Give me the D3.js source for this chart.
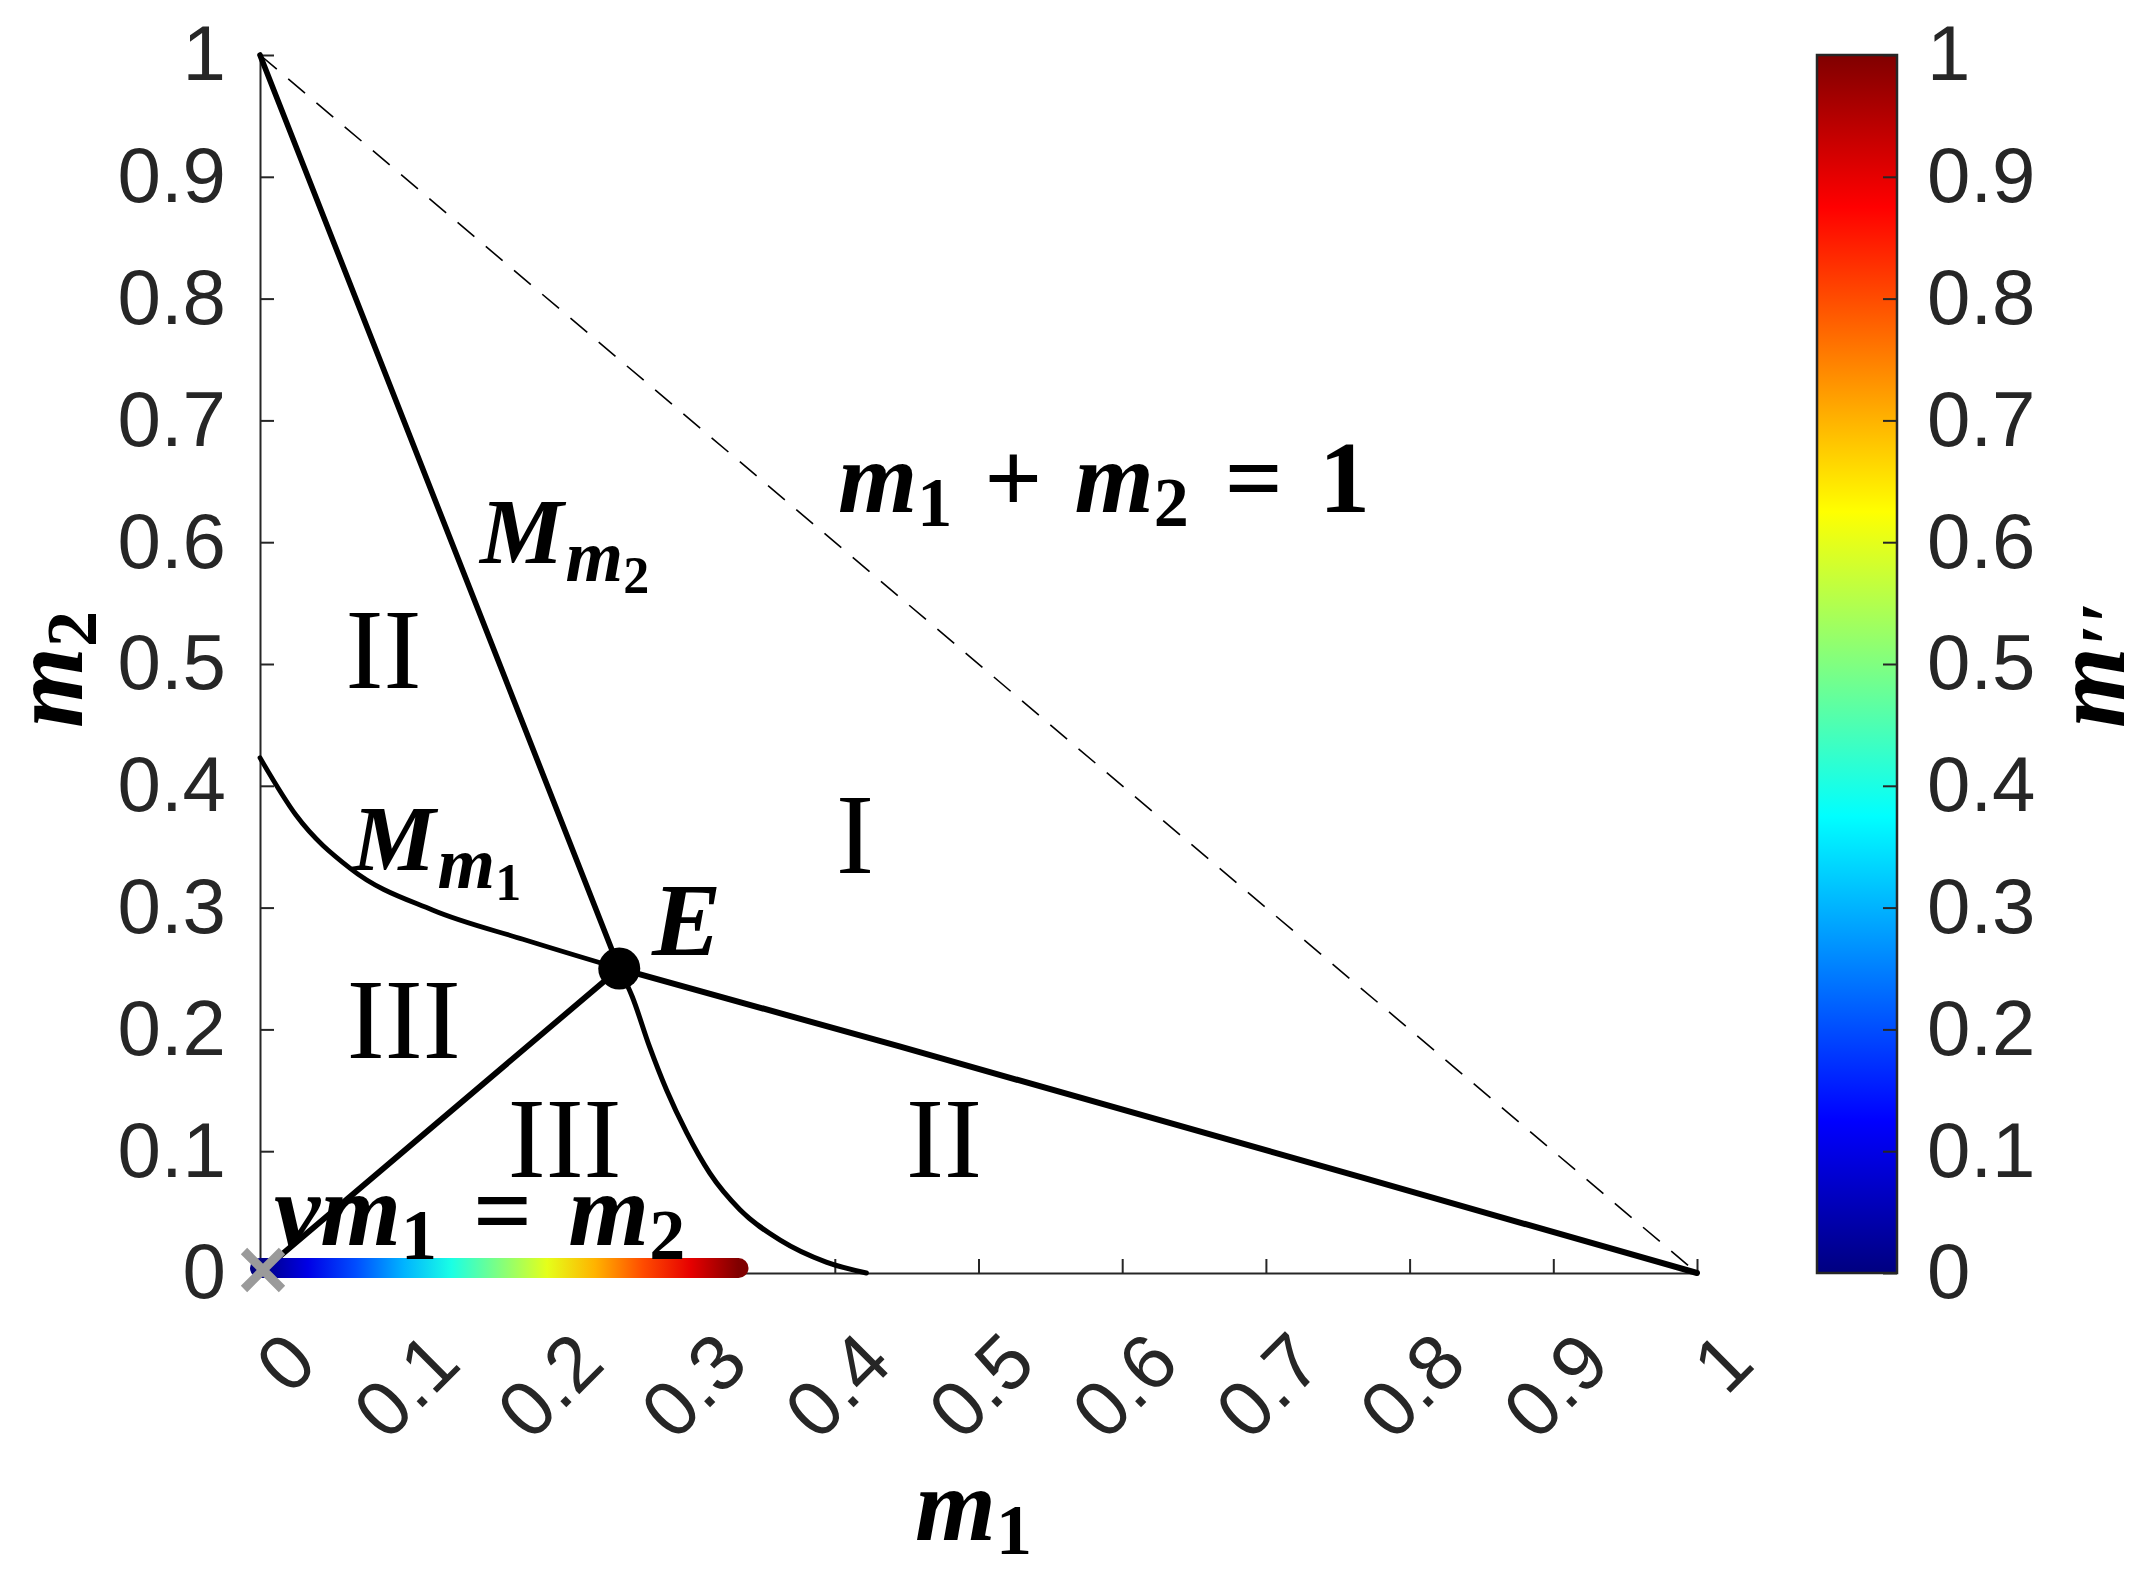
<!DOCTYPE html>
<html>
<head>
<meta charset="utf-8">
<script src="https://cdn.jsdelivr.net/npm/d3@7"></script>
<style>
  body { margin: 0; background: #fff; }
  svg { display: block; }
</style>
</head>
<body>
<script>
// canvas size
var w = 2146;
var h = 1584;

// tick values and labels
var tickVals = [0, 0.1, 0.2, 0.3, 0.4, 0.5, 0.6, 0.7, 0.8, 0.9, 1];
var tickLabels = ["0", "0.1", "0.2", "0.3", "0.4", "0.5", "0.6", "0.7", "0.8", "0.9", "1"];

// curves
var mm2UpX = [0, 0.25];
var mm2UpY = [1, 0.25];
var mm2LowX = [0.25, 0.259, 0.271, 0.283, 0.297, 0.313, 0.334, 0.362, 0.394, 0.422];
var mm2LowY = [0.25, 0.227, 0.186, 0.150, 0.115, 0.082, 0.052, 0.027, 0.009, 0];
var mm1LeftX = [0, 0.025, 0.063, 0.12, 0.183, 0.25];
var mm1LeftY = [0.423, 0.376, 0.332, 0.298, 0.274, 0.25];
var mm1RightX = [0.25, 0.445, 0.771, 1];
var mm1RightY = [0.25, 0.186, 0.077, 0];
var nuX = [0, 0.25];
var nuY = [0, 0.25];
var diagX = [0, 1];
var diagY = [1, 0];
var pointE = [0.25, 0.25];

// coloured band along the m1 axis (m'' value at each position)
var bandX = [0, 0.0333, 0.0666, 0.0999, 0.1332, 0.1665, 0.1998, 0.2331, 0.2664, 0.2997, 0.333];
var bandM = [0, 0.1, 0.2, 0.3, 0.4, 0.5, 0.6, 0.7, 0.8, 0.9, 1];

// region labels
var regionNames = ["II", "I", "III", "III", "II"];
var regionX = [0.086, 0.414, 0.100, 0.212, 0.476];
var regionY = [0.480, 0.328, 0.1765, 0.079, 0.079];

// jet colormap
var jet = d3.scaleLinear()
    .domain([0, 0.125, 0.375, 0.625, 0.875, 1])
    .range(["#000080", "#0000ff", "#00ffff", "#ffff00", "#ff0000", "#800000"]);

var x = d3.scaleLinear().domain([0, 1]).range([260, 1697]);
var y = d3.scaleLinear().domain([0, 1]).range([1273, 55]);
var cbY = d3.scaleLinear().domain([0, 1]).range([1273, 55]);

var svg = d3.select("body").append("svg")
    .attr("width", w)
    .attr("height", h);

var defs = svg.append("defs");

var axisColor = "#262626";
var tickFont = "'Liberation Sans', Arial, sans-serif";
var mathFont = "'Liberation Serif', 'Times New Roman', serif";

//y axis
var yAxis = svg.append("g")
    .attr("transform", "translate(" + x(0) + ",0)")
    .call(d3.axisLeft(y).tickValues(tickVals).tickFormat(function(d, i){ return tickLabels[i]; })
        .tickSize(-14).tickSizeOuter(0).tickPadding(34));

//x axis
var xAxis = svg.append("g")
    .attr("transform", "translate(0," + y(0) + ")")
    .call(d3.axisBottom(x).tickValues(tickVals).tickFormat(function(d, i){ return tickLabels[i]; })
        .tickSize(-14).tickSizeOuter(0));

xAxis.selectAll(".tick text")
    .attr("y", null)
    .attr("dy", "0.35em")
    .attr("text-anchor", "end")
    .attr("transform", "translate(40,74) rotate(-45)");

[yAxis, xAxis].forEach(function(g){
    g.select(".domain").attr("stroke", axisColor).attr("stroke-width", 2);
    g.selectAll(".tick line").attr("stroke", axisColor).attr("stroke-width", 2);
    g.selectAll(".tick text")
        .attr("fill", axisColor)
        .style("font-family", tickFont)
        .style("font-size", "78px");
});

//lines
function pts(xs, ys){
    return xs.map(function(d, i){ return [d, ys[i]]; });
}
var line = d3.line()
    .x(function(d){ return x(d[0]); })
    .y(function(d){ return y(d[1]); })
    .curve(d3.curveMonotoneX);

function drawLine(xs, ys, width){
    return svg.append("path")
        .attr("d", line(pts(xs, ys)))
        .attr("fill", "none")
        .attr("stroke", "#000")
        .attr("stroke-width", width)
        .attr("stroke-linecap", "round");
}

drawLine(diagX, diagY, 1.6)
    .attr("stroke-linecap", "butt")
    .attr("stroke-dasharray", "22,15");
drawLine(mm2UpX, mm2UpY, 5.6);
drawLine(mm2LowX, mm2LowY, 5);
drawLine(mm1LeftX, mm1LeftY, 4.8);
drawLine(mm1RightX, mm1RightY, 6);
drawLine(nuX, nuY, 5.8);

//coloured band
var bandGrad = defs.append("linearGradient")
    .attr("id", "bandGrad")
    .attr("gradientUnits", "userSpaceOnUse")
    .attr("x1", x(bandX[0])).attr("x2", x(bandX[bandX.length - 1]))
    .attr("y1", 0).attr("y2", 0);
bandGrad.selectAll("stop")
    .data(bandX)
    .enter()
    .append("stop")
    .attr("offset", function(d){ return (d - bandX[0]) / (bandX[bandX.length - 1] - bandX[0]); })
    .attr("stop-color", function(d, i){ return jet(bandM[i]); });

svg.append("line")
    .attr("x1", x(bandX[0])).attr("x2", x(bandX[bandX.length - 1]))
    .attr("y1", y(0) - 5).attr("y2", y(0) - 5)
    .attr("stroke", "url(#bandGrad)")
    .attr("stroke-width", 20)
    .attr("stroke-linecap", "round");

//grey cross at the origin
var cx = x(0) + 3, cy = y(0) - 3;
svg.append("path")
    .attr("d", "M" + (cx - 19) + "," + (cy - 19) + "L" + (cx + 19) + "," + (cy + 19) +
               "M" + (cx - 19) + "," + (cy + 19) + "L" + (cx + 19) + "," + (cy - 19))
    .attr("stroke", "#9a9a9a")
    .attr("stroke-width", 9);

//point E
svg.append("circle")
    .attr("cx", x(pointE[0]))
    .attr("cy", y(pointE[1]))
    .attr("r", 21)
    .attr("fill", "#000");

//region labels
svg.selectAll(".region")
    .data(regionNames)
    .enter()
    .append("text")
    .attr("class", "region")
    .attr("x", function(d, i){ return x(regionX[i]); })
    .attr("y", function(d, i){ return y(regionY[i]); })
    .attr("text-anchor", "middle")
    .style("font-family", mathFont)
    .style("font-size", "114px")
    .text(function(d){ return d; });

//math labels: parts = [text, size, shift, italic, dx]
function mathText(px, py, parts, rot){
    var t = svg.append("text")
        .attr("transform", "translate(" + px + "," + py + ")" + (rot ? " rotate(" + rot + ")" : ""))
        .style("font-family", mathFont)
        .style("font-weight", "bold")
        .attr("fill", "#000");
    var prev = 0;
    parts.forEach(function(p){
        var s = t.append("tspan")
            .text(p[0])
            .style("font-size", p[1] + "px")
            .style("font-style", p[3] ? "italic" : "normal")
            .attr("dy", p[2] - prev);
        if (p[4]) s.attr("dx", p[4]);
        prev = p[2];
    });
    return t;
}

mathText(480, 563, [["M", 94, 0, true], ["m", 74, 18, true, 2], ["2", 52, 30, false]]);
mathText(352, 870, [["M", 94, 0, true], ["m", 74, 18, true, 2], ["1", 52, 30, false]]);
mathText(652, 955, [["E", 104, 0, true]]);
mathText(274, 1245, [["ν", 104, 0, true], ["m", 104, 0, true, 0], ["1", 72, 14, false],
    ["=", 104, 0, false, 36], ["m", 104, 0, true, 36], ["2", 72, 14, false]]);
mathText(838, 512, [["m", 102, 0, true], ["1", 70, 14, false], ["+", 102, 0, false, 32],
    ["m", 102, 0, true, 32], ["2", 70, 14, false], ["=", 102, 0, false, 36], ["1", 102, 0, false, 36]]);

//axis labels
mathText(915, 1540, [["m", 104, 0, true], ["1", 72, 14, false]]);
mathText(82, 728, [["m", 104, 0, true], ["2", 72, 14, false]], -90);
mathText(2124, 728, [["m", 104, 0, true], ["′′", 80, 12, true, 0]], -90);

//colorbar
var cbLeft = 1817, cbRight = 1897;
var cbGrad = defs.append("linearGradient")
    .attr("id", "cbGrad")
    .attr("x1", 0).attr("x2", 0).attr("y1", 1).attr("y2", 0);
// stops at the ticks and at the bends of jet
var cbStops = tickVals.concat([0.125, 0.375, 0.625, 0.875]).sort(function(a, b){ return a - b; });
cbGrad.selectAll("stop")
    .data(cbStops)
    .enter()
    .append("stop")
    .attr("offset", function(d){ return d; })
    .attr("stop-color", function(d){ return jet(d); });

svg.append("rect")
    .attr("x", cbLeft)
    .attr("y", cbY(1))
    .attr("width", cbRight - cbLeft)
    .attr("height", cbY(0) - cbY(1))
    .attr("fill", "url(#cbGrad)")
    .attr("stroke", axisColor)
    .attr("stroke-width", 2.5);

var cbAxis = svg.append("g")
    .attr("transform", "translate(" + cbRight + ",0)")
    .call(d3.axisRight(cbY).tickValues(tickVals).tickFormat(function(d, i){ return tickLabels[i]; })
        .tickSize(-14).tickSizeOuter(0).tickPadding(30));
cbAxis.select(".domain").remove();
cbAxis.selectAll(".tick line").attr("stroke", axisColor).attr("stroke-width", 2);
cbAxis.selectAll(".tick text")
    .attr("fill", axisColor)
    .style("font-family", tickFont)
    .style("font-size", "78px");
</script>
</body>
</html>
